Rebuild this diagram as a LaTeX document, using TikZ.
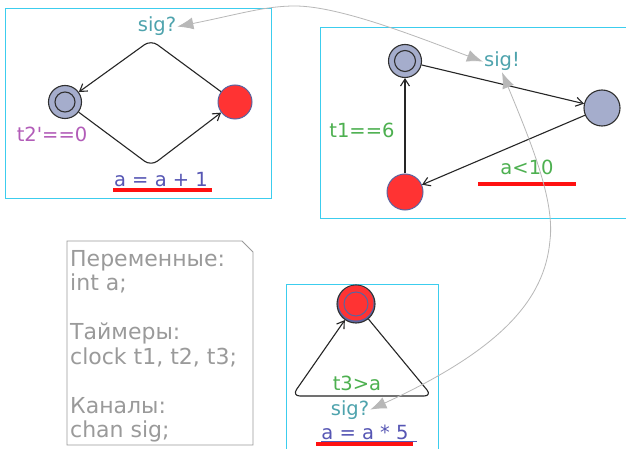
\documentclass[tikz,border=0pt]{standalone}
\usepackage{fontspec}
\setmainfont{DejaVu Sans}
\newfontfamily\plainfont{DejaVu Sans}
\usetikzlibrary{arrows.meta}
\definecolor{boxc}{HTML}{3CCDEE}
\definecolor{locfill}{HTML}{A5ADCC}
\definecolor{locred}{HTML}{FF3333}
\definecolor{locdraw}{HTML}{303030}
\definecolor{redring}{HTML}{5A64A0}
\definecolor{synccol}{HTML}{4EA3AD}
\definecolor{guardcol}{HTML}{4DB050}
\definecolor{invcol}{HTML}{B25CB8}
\definecolor{assigncol}{HTML}{5656B4}
\definecolor{curvecol}{HTML}{B8B8B8}
\definecolor{notecol}{HTML}{9A9A9A}
\definecolor{ulred}{HTML}{FF1111}
\tikzset{
  tabox/.style={draw=boxc, line width=0.8pt},
  loc/.style={circle, draw=locdraw, fill=locfill, line width=1.1pt, minimum size=33pt, inner sep=0pt},
  redloc/.style={circle, draw=redring, fill=locred, line width=1pt, minimum size=34pt, inner sep=0pt},
  innerring/.style={draw=locdraw, line width=1.1pt},
  edge/.style={draw=black!85, line width=1.1pt, rounded corners=8pt, -{Straight Barb[length=7pt,width=9pt]}},
  lbl/.style={font=\plainfont\fontsize{19.5}{23}\selectfont, anchor=base, inner sep=1pt},
  synclbl/.style={lbl, text=synccol},
  guardlbl/.style={lbl, text=guardcol},
  invlbl/.style={lbl, text=invcol},
  assignlbl/.style={lbl, text=assigncol},
  ulline/.style={draw=ulred, line width=3.6pt},
  bluul/.style={draw=assigncol, line width=0.8pt},
  synccurve/.style={draw=curvecol, line width=0.8pt, {Latex[length=16pt,width=12pt]}-{Latex[length=16pt,width=12pt]}},
  notetxt/.style={font=\plainfont\fontsize{22}{24.5}\selectfont, text=notecol, anchor=base west, inner sep=0pt},
}
\begin{document}
\begin{tikzpicture}[x=1pt,y=-1pt]
\useasboundingbox (0,0) rectangle (626,449);
\fill[white] (0,0) rectangle (626,449);

% ---------- box 1 ----------
\draw[tabox] (5,8) rectangle (271,198);
\node[loc] (A1) at (65,102) {};
\draw[innerring] (A1.center) circle (10);
\node[redloc] (R1) at (235,102) {};
\coordinate (c1t) at (151,40);
\coordinate (c1b) at (151,166);
\draw[edge] (R1) -- (c1t) -- (A1);
\draw[edge] (A1) -- (c1b) -- (R1);
\node[synclbl] (s1) at (157,32) {sig?};
\node[invlbl] (i1) at (52,142) {t2'==0};
\node[assignlbl] (g1) at (161,186) {a = a + 1};
\draw[bluul] (g1.base west) ++(1,2) -- ++(94,0);
\draw[ulline] (113,190) -- (212,190);

% ---------- box 2 ----------
\draw[tabox] (628,27) -- (320,27) -- (320,218) -- (628,218);
\node[loc] (A2) at (405,61) {};
\draw[innerring] (A2.center) circle (10.5);
\node[loc, minimum size=36pt] (B2) at (602,108) {};
\node[redloc, minimum size=36pt] (C2) at (405,192) {};
\draw[edge] (A2) -- (B2);
\draw[edge] (B2) -- (C2);
\draw[edge] (C2) -- (A2);
\node[synclbl] (s2) at (502,67) {sig!};
\node[guardlbl] (g2a) at (362,138) {t1==6};
\node[guardlbl] (g2b) at (527,175) {a<10};
\draw[ulline] (478,184) -- (576,184);

% ---------- box 3 ----------
\draw[tabox] (286,452) -- (286,284) -- (438,284) -- (438,452);
\node[circle, draw=locdraw, fill=redring, line width=1.1pt, minimum size=38pt, inner sep=0pt] (N3) at (356,304) {};
\fill[locred] (356,303) circle (17.5);
\draw[draw=redring, line width=1pt] (356,304) circle (12);
\coordinate (c3r) at (432,396);
\coordinate (c3l) at (292,396);
\draw[edge] (N3) -- (c3r) -- (c3l) -- (N3);
\node[guardlbl] (g3) at (357,390) {t3>a};
\node[synclbl] (s3) at (350,415) {sig?};
\node[assignlbl] (a3) at (365,439) {a = a * 5};
\draw[bluul] (a3.base west) ++(1,2) -- ++(96,0);
\draw[ulline] (316,444) -- (413,444);

% ---------- synchronisation curves ----------
\draw[synccurve] (s1.east) .. controls (240,14) and (265,6) .. (295,6)
   .. controls (340,6) and (420,38) .. (s2.west);
\draw[synccurve] (s2.south) .. controls (530,140) and (555,200) .. (550,240)
   .. controls (545,300) and (500,350) .. (s3.east);

% ---------- declarations note ----------
\draw[draw=notecol, line width=0.9pt] (67,241) -- (242,241) -- (253,252) -- (253,445) -- (67,445) -- cycle;
\node[notetxt] (n1) at (70,266) {Переменные:};
\node[notetxt] (n2) at (70,290.5) {int a;};
\node[notetxt] (n3) at (70,339.5) {Таймеры:};
\node[notetxt] (n4) at (70,364) {clock t1, t2, t3;};
\node[notetxt] (n5) at (70,413) {Каналы:};
\node[notetxt] (n6) at (70,437.5) {chan sig;};
\end{tikzpicture}
\end{document}
